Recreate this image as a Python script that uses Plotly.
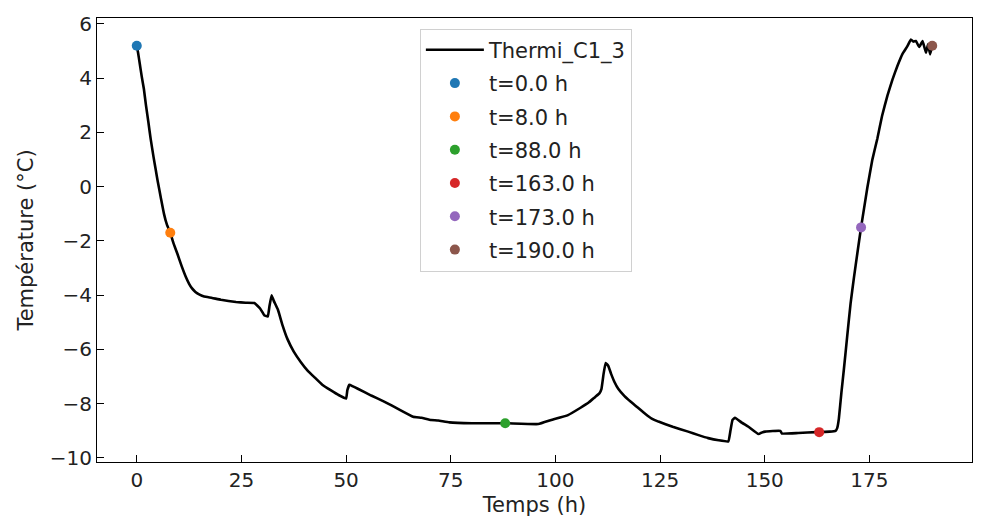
import plotly.graph_objects as go

# Temperature series (time in h, temperature in °C)
time_h = [0, 0.3, 0.7, 1.2, 1.7, 2.2, 2.8, 3.3, 4.0, 4.5, 5.0, 5.8, 6.5, 7.2, 8, 8.8, 9.7, 10.7,
          11.7, 12.5, 13.2, 14, 15, 16.1, 18, 20.1, 23.7, 26, 28.1, 29.5, 30.5, 31.3, 31.7, 32.2,
          32.7, 33.7, 34.8, 36, 37.5, 39.2, 40.8, 42.4, 44.3, 46.4, 48.2, 50, 50.3, 50.8, 51.5,
          52.8, 56, 59.2, 62.5, 66, 68, 70.3, 72, 74.7, 80, 88, 95.9, 99, 103, 106, 108, 109.5,
          110.5, 111, 111.5, 112, 112.6, 113.3, 114.1, 115, 116.5, 118, 119.5, 121.5, 123, 124.6,
          128, 131.7, 134, 136.5, 139, 141.3, 141.8, 142.3, 142.9, 144.5, 146.1, 148.5, 149.5,
          150.1, 153.7, 154.1, 158, 162.4, 163, 165.5, 166.9, 167.3, 167.7, 168.3, 168.9, 169.7,
          170.5, 171.3, 172.1, 173, 174.5, 175.7, 176.9, 178, 179.3, 180.5, 181.7, 182.9, 184.1,
          184.9, 185.5, 186.1, 186.9, 187.7, 188.5, 189.0, 189.5, 190]
temp_c = [5.2, 4.95, 4.55, 4.05, 3.6, 3.0, 2.35, 1.78, 1.1, 0.65, 0.2, -0.45, -1.0, -1.4, -1.7,
          -2.1, -2.47, -2.92, -3.32, -3.58, -3.75, -3.88, -3.98, -4.05, -4.1, -4.17, -4.25, -4.28,
          -4.29, -4.5, -4.75, -4.78, -4.4, -4.0, -4.2, -4.53, -5.1, -5.62, -6.08, -6.47, -6.78,
          -7.02, -7.3, -7.51, -7.68, -7.81, -7.5, -7.3, -7.35, -7.45, -7.7, -7.93, -8.2, -8.48,
          -8.52, -8.6, -8.62, -8.69, -8.72, -8.72, -8.75, -8.6, -8.42, -8.15, -7.95, -7.75, -7.62,
          -7.45, -6.9, -6.5, -6.6, -6.9, -7.2, -7.45, -7.72, -7.93, -8.12, -8.38, -8.55, -8.66,
          -8.85, -9.03, -9.15, -9.27, -9.35, -9.39, -9.0, -8.6, -8.52, -8.7, -8.85, -9.12, -9.05,
          -9.03, -9.0, -9.1, -9.08, -9.05, -9.05, -9.03, -9.0, -8.9, -8.55, -7.6, -6.73, -5.5,
          -4.3, -3.35, -2.47, -1.5, -0.04, 1.0, 1.78, 2.6, 3.36, 3.95, 4.46, 4.9, 5.19, 5.43,
          5.35, 5.37, 5.15, 5.37, 4.94, 5.25, 4.88, 5.2]

# Highlighted instants
marker_times = [0.0, 8.0, 88.0, 163.0, 173.0, 190.0]
marker_temps = [5.2, -1.7, -8.72, -9.05, -1.5, 5.2]
marker_colors = ["#1f77b4", "#ff7f0e", "#2ca02c", "#d62728", "#9467bd", "#8c564b"]

x_ticks = [0, 25, 50, 75, 100, 125, 150, 175, 200]
y_ticks = [-10, -8, -6, -4, -2, 0, 2, 4, 6]

fig = go.Figure()
fig.add_trace(go.Scatter(x=time_h, y=temp_c, mode="lines", name="Thermi_C1_3",
                         line=dict(color="black", width=2.6, shape="spline", smoothing=0.3),
                         legendgroup="g0"))
for i, (t, v, c) in enumerate(zip(marker_times, marker_temps, marker_colors)):
    fig.add_trace(go.Scatter(x=[t], y=[v], mode="markers", name=f"t={t:.1f} h",
                             marker=dict(color=c, size=10), legendgroup=f"g{i+1}"))

axis_common = dict(showline=True, linecolor="black", linewidth=1, mirror=True,
                   ticks="inside", ticklen=7, tickcolor="black", tickwidth=1,
                   showgrid=False, zeroline=False,
                   tickfont=dict(size=20, color="#222"))

fig.update_layout(
    width=995, height=525,
    margin=dict(l=97, r=23, t=15, b=61),
    paper_bgcolor="white", plot_bgcolor="white",
    font=dict(family="DejaVu Sans", color="#222"),
    xaxis=dict(range=[-9.5, 199.5], tickvals=x_ticks,
               title=dict(text="Temps (h)", font=dict(size=21), standoff=6), **axis_common),
    yaxis=dict(range=[-10.15, 6.22], tickvals=y_ticks,
               title=dict(text="Température (°C)", font=dict(size=21), standoff=10), **axis_common),
    legend=dict(x=0.369, y=0.976, xanchor="left", yanchor="top",
                bgcolor="rgba(255,255,255,0.8)", bordercolor="#d0d0d0", borderwidth=1,
                font=dict(size=21, color="#222"), traceorder="grouped", tracegroupgap=3,
                itemwidth=58),
    showlegend=True,
)

fig.write_html("out.html")
